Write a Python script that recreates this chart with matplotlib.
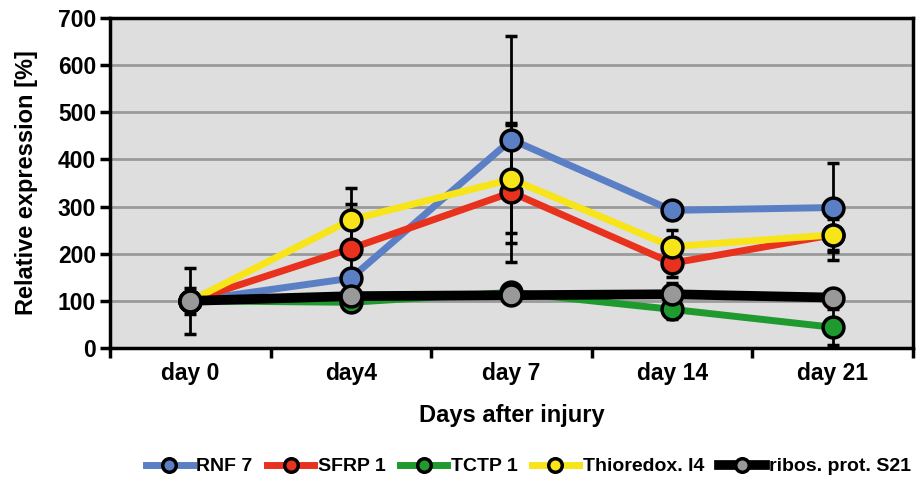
import numpy as np
import matplotlib
matplotlib.use('Agg')
import matplotlib.pyplot as plt
from matplotlib import font_manager

plt.rcParams['font.family'] = ['Liberation Sans', 'DejaVu Sans']

# data
days = ['day 0', 'day4', 'day 7', 'day 14', 'day 21']
names = ['RNF 7', 'SFRP 1', 'TCTP 1', 'Thioredox. I4', 'ribos. prot. S21']
rnf7 = [100, 148, 442, 292, 298]
sfrp1 = [100, 211, 330, 180, 240]
tctp1 = [100, 97, 118, 82, 44]
thio = [100, 272, 358, 215, 240]
ribos = [100, 110, 112, 114, 107]
rnf7_err = [0, 15, 220, 18, 95]
sfrp1_err = [27, 95, 148, 30, 54]
tctp1_err = [0, 10, 10, 20, 38]
thio_err = [0, 68, 115, 36, 33]
ribos_err = [70, 10, 10, 23, 15]

series = [rnf7, sfrp1, tctp1, thio, ribos]
errs = [rnf7_err, sfrp1_err, tctp1_err, thio_err, ribos_err]
line_colors = ['#5b7fc4', '#e8321e', '#1f9a2e', '#f7e51a', '#000000']
face_colors = ['#5b7fc4', '#e8321e', '#1f9a2e', '#f7e51a', '#999999']
widths = [5, 5, 5, 5, 7]

fig = plt.figure(figsize=(9.16, 4.83), dpi=100)
ax = fig.add_axes([0.1201, 0.2795, 0.8766, 0.6832])
ax.set_facecolor('#dedede')

x = np.arange(len(days))
for i in range(len(series)):
    ax.errorbar(x, series[i], yerr=errs[i], fmt='none', ecolor='black',
                elinewidth=2, capsize=4, capthick=2.5, zorder=2)
for i in range(len(series)):
    ax.plot(x, series[i], color=line_colors[i], lw=widths[i], marker='o',
            ms=15, mfc=face_colors[i], mec='black', mew=2.5,
            label=names[i], zorder=3 + i)

ax.set_ylim(0, 700)
ax.set_xlim(-0.5, 4.5)
ax.set_yticks(range(0, 701, 100))
ax.yaxis.grid(True, color='#9a9a9a', lw=2)
ax.set_axisbelow(True)
ax.set_xticks(x)
ax.set_xticklabels(days, fontsize=16.5, fontweight='bold')
ax.set_xticks(np.arange(-0.5, 4.6, 1), minor=True)
ax.tick_params(axis='x', which='major', length=0, pad=10)
ax.tick_params(axis='x', which='minor', length=7, width=2.5, direction='out')
ax.tick_params(axis='y', length=7, width=2.5, direction='out', labelsize=16.5, pad=3)
for lab in ax.get_yticklabels():
    lab.set_fontweight('bold')
for sp in ax.spines.values():
    sp.set_linewidth(2.5)
ax.set_xlabel('Days after injury', fontsize=17, fontweight='bold', labelpad=14)
ax.set_ylabel('Relative expression [%]', fontsize=17, fontweight='bold', labelpad=14)

# legend in a condensed face if one is there
leg_font = font_manager.FontProperties(family=['Liberation Sans Narrow', 'Liberation Sans'],
                                       weight='bold', size=16)
narrow = 'Narrow' in font_manager.findfont(leg_font)
if not narrow:
    leg_font.set_size(14)
leg = fig.legend(loc='center', bbox_to_anchor=(0.577, 0.034), ncol=5, frameon=False,
                 prop=leg_font, markerscale=0.65, handlelength=2.4,
                 columnspacing=0.75, handletextpad=0.2)

fig.savefig('out.png', dpi=100)
